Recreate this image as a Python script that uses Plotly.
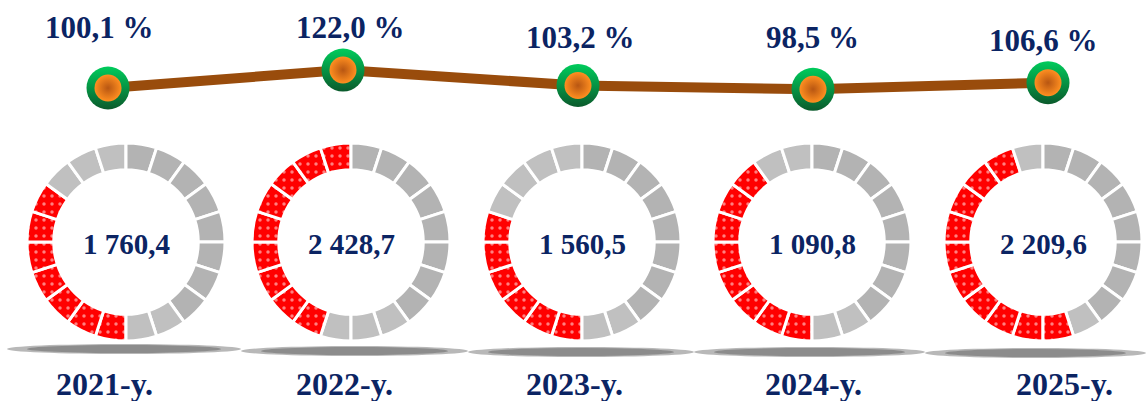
import plotly.graph_objects as go

# ---- data ----
years = ["2021-y.", "2022-y.", "2023-y.", "2024-y.", "2025-y."]
growth_pct = [100.1, 122.0, 103.2, 98.5, 106.6]
volumes = [1760.4, 2428.7, 1560.5, 1090.8, 2209.6]
red_segments = [7, 9, 6, 8, 10]
red_offset = [0, 1, 0, 0, -1]
n_segments = 20

W, H = 1146, 401
NAVY = "#0b2463"
FONT = "Liberation Serif, Times New Roman, serif"


def px(x):
    return x / W


def py(y):
    return 1 - y / H


def fmt(v):
    return f"{v:,.1f}".replace(",", " ").replace(".", ",")


def pct(v):
    return f"{v:.1f}".replace(".", ",") + " %"


fig = go.Figure()

# ---- donuts ----
donut_cx = [126, 351, 582, 812, 1043]
donut_cy = 242
donut_r = 99
for i, (cnt, off) in enumerate(zip(red_segments, red_offset)):
    red_idx = {(off + k) % n_segments for k in range(cnt)}
    colors, shapes = [], []
    for s in range(n_segments):
        if s in red_idx:
            colors.append("#ff0000")
            shapes.append(".")
        else:
            if s < 10 or s >= 18:
                colors.append("#c0c0c0")
            else:
                colors.append("#b3b3b3")
            shapes.append("")
    cx = donut_cx[i]
    fig.add_trace(go.Pie(
        values=[1] * n_segments,
        sort=False,
        direction="clockwise",
        rotation=180,
        hole=0.73,
        textinfo="none",
        hoverinfo="skip",
        showlegend=False,
        marker=dict(colors=colors, line=dict(color="white", width=3),
                    pattern=dict(shape=shapes, fgcolor="white", size=8, solidity=0.15,
                                 fillmode="overlay")),
        domain=dict(x=[px(cx - donut_r), px(cx + donut_r)],
                    y=[py(donut_cy + donut_r), py(donut_cy - donut_r)]),
    ))

# ---- growth line ----
xi = list(range(len(years)))
fig.add_trace(go.Scatter(
    x=xi, y=growth_pct, mode="lines",
    line=dict(color="#994c0c", width=10), hoverinfo="skip", showlegend=False))
fig.add_trace(go.Scatter(
    x=xi, y=growth_pct, mode="markers",
    marker=dict(size=43, color="#00cc5c", line=dict(width=0),
                gradient=dict(type="vertical", color="#0b5a2c")),
    hoverinfo="skip", showlegend=False))
fig.add_trace(go.Scatter(
    x=xi, y=growth_pct, mode="markers",
    marker=dict(size=27, color="#ff8f20", line=dict(width=0),
                gradient=dict(type="radial", color="#b85612")),
    hoverinfo="skip", showlegend=False))

# y mapping: 100.1 -> 88 px, 0.82 px per percent
y_top = 100.1 + 88 / 0.82
y_bot = 100.1 - (H - 88) / 0.82
x_left = -108 / 235
x_right = (W - 108) / 235

annotations = []
pct_label_y = [27, 27, 38, 38, 40]
pct_label_x = [99, 350, 580, 812, 1043]
for i, v in enumerate(growth_pct):
    annotations.append(dict(x=px(pct_label_x[i]), y=py(pct_label_y[i]), xref="paper", yref="paper",
                            xanchor="center", yanchor="middle",
                            text=f"<b>{pct(v)}</b>", showarrow=False,
                            font=dict(family=FONT, size=31, color=NAVY)))
for i, v in enumerate(volumes):
    annotations.append(dict(x=px(donut_cx[i]), y=py(donut_cy + 2), xref="paper", yref="paper",
                            xanchor="center", yanchor="middle",
                            text=f"<b>{fmt(v)}</b>", showarrow=False,
                            font=dict(family=FONT, size=29, color=NAVY)))
year_x = [104, 344, 574, 813, 1064]
for i, yname in enumerate(years):
    annotations.append(dict(x=px(year_x[i]), y=py(384), xref="paper", yref="paper",
                            xanchor="center", yanchor="middle",
                            text=f"<b>{yname}</b>", showarrow=False,
                            font=dict(family=FONT, size=32, color=NAVY)))

# ---- shadow ellipses ----
shapes = []
shadow = [(7, 241, 349), (241, 468, 351), (468, 694, 352), (694, 925, 352), (925, 1146, 353)]
for x0, x1, yc in shadow:
    shapes.append(dict(type="circle", xref="paper", yref="paper", layer="below",
                       x0=px(x0), x1=px(x1), y0=py(yc + 5), y1=py(yc - 5),
                       fillcolor="#b8b8b8", line=dict(width=0)))
    shapes.append(dict(type="circle", xref="paper", yref="paper", layer="below",
                       x0=px(x0 + 20), x1=px(x1 - 20), y0=py(yc + 4), y1=py(yc - 4),
                       fillcolor="#8c8c8c", line=dict(width=0)))

fig.update_layout(
    width=W, height=H,
    margin=dict(l=0, r=0, t=0, b=0),
    paper_bgcolor="white", plot_bgcolor="rgba(0,0,0,0)",
    xaxis=dict(range=[x_left, x_right], visible=False, fixedrange=True),
    yaxis=dict(range=[y_bot, y_top], visible=False, fixedrange=True),
    annotations=annotations,
    shapes=shapes,
)

fig.write_html("out.html", config={"displayModeBar": False},
               post_script="document.body.style.margin='0';document.body.style.overflow='hidden';")
